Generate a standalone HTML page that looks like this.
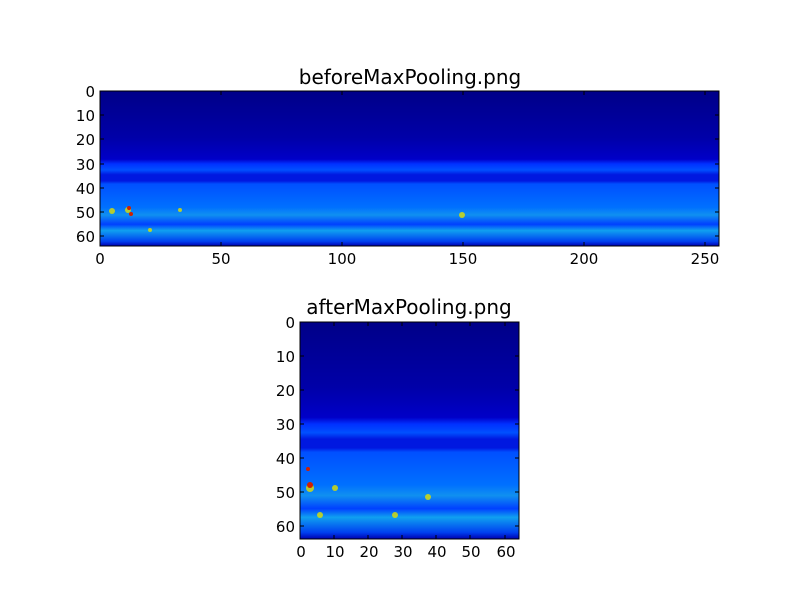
<!DOCTYPE html>
<html><head><style>body{margin:0;background:#fff}svg{display:block}</style></head><body>
<svg width="800" height="600" xmlns="http://www.w3.org/2000/svg" font-family="DejaVu Sans, Liberation Sans, sans-serif" font-size="15">
<defs>
<linearGradient id="g" x1="0" y1="0" x2="0" y2="1">
<stop offset="0" stop-color="#000088"/>
<stop offset="0.3" stop-color="#0000a8"/>
<stop offset="0.44" stop-color="#0000c8"/>
<stop offset="0.47" stop-color="#0030ff"/>
<stop offset="0.51" stop-color="#0050ff"/>
<stop offset="0.54" stop-color="#0018e0"/>
<stop offset="0.58" stop-color="#0018e0"/>
<stop offset="0.6" stop-color="#0050ff"/>
<stop offset="0.75" stop-color="#0070ff"/>
<stop offset="0.8" stop-color="#1090f0"/>
<stop offset="0.86" stop-color="#0040ff"/>
<stop offset="0.9" stop-color="#10a0f0"/>
<stop offset="0.97" stop-color="#0040f0"/>
<stop offset="1" stop-color="#0000b0"/>
</linearGradient>
</defs>
<text x="410" y="84" text-anchor="middle" font-size="20">beforeMaxPooling.png</text>
<rect x="100" y="91" width="619" height="155" fill="url(#g)"/>
<g fill="#e0e000" opacity="0.8"><circle cx="112" cy="211" r="3"/><circle cx="128" cy="210" r="3"/><circle cx="462" cy="215" r="3"/><circle cx="180" cy="210" r="2"/><circle cx="150" cy="230" r="2"/></g>
<g fill="#d02000"><circle cx="129" cy="208" r="2"/><circle cx="131" cy="214" r="2"/></g>
<rect x="100" y="91" width="619" height="155" fill="none" stroke="#000"/>
<g stroke="#000">
<path d="M100 91v4M221 91v4M342 91v4M463 91v4M584 91v4M705 91v4M100 246v-4M221 246v-4M342 246v-4M463 246v-4M584 246v-4M705 246v-4"/>
<path d="M100 91h4M100 115h4M100 139h4M100 164h4M100 188h4M100 212h4M100 236h4M719 91h-4M719 115h-4M719 139h-4M719 164h-4M719 188h-4M719 212h-4M719 236h-4"/>
</g>
<g text-anchor="end"><text x="95" y="97">0</text><text x="95" y="121">10</text><text x="95" y="145">20</text><text x="95" y="170">30</text><text x="95" y="194">40</text><text x="95" y="218">50</text><text x="95" y="242">60</text></g>
<g text-anchor="middle"><text x="100" y="264">0</text><text x="221" y="264">50</text><text x="342" y="264">100</text><text x="463" y="264">150</text><text x="584" y="264">200</text><text x="705" y="264">250</text></g>

<text x="409" y="314" text-anchor="middle" font-size="20">afterMaxPooling.png</text>
<rect x="300" y="322" width="219" height="217" fill="url(#g)"/>
<g fill="#e0e000" opacity="0.8"><circle cx="310" cy="488" r="4"/><circle cx="335" cy="488" r="3"/><circle cx="428" cy="497" r="3"/><circle cx="320" cy="515" r="3"/><circle cx="395" cy="515" r="3"/></g>
<g fill="#d02000"><circle cx="310" cy="485" r="3"/><circle cx="308" cy="469" r="2"/></g>
<rect x="300" y="322" width="219" height="217" fill="none" stroke="#000"/>
<g stroke="#000">
<path d="M300 322v4M334 322v4M368 322v4M402 322v4M436 322v4M470 322v4M505 322v4M300 539v-4M334 539v-4M368 539v-4M402 539v-4M436 539v-4M470 539v-4M505 539v-4"/>
<path d="M300 322h4M300 356h4M300 390h4M300 424h4M300 458h4M300 492h4M300 526h4M519 322h-4M519 356h-4M519 390h-4M519 424h-4M519 458h-4M519 492h-4M519 526h-4"/>
</g>
<g text-anchor="end"><text x="295" y="328">0</text><text x="295" y="362">10</text><text x="295" y="396">20</text><text x="295" y="430">30</text><text x="295" y="464">40</text><text x="295" y="498">50</text><text x="295" y="532">60</text></g>
<g text-anchor="middle"><text x="301" y="557">0</text><text x="335" y="557">10</text><text x="369" y="557">20</text><text x="403" y="557">30</text><text x="437" y="557">40</text><text x="471" y="557">50</text><text x="506" y="557">60</text></g>
</svg>
</body></html>
